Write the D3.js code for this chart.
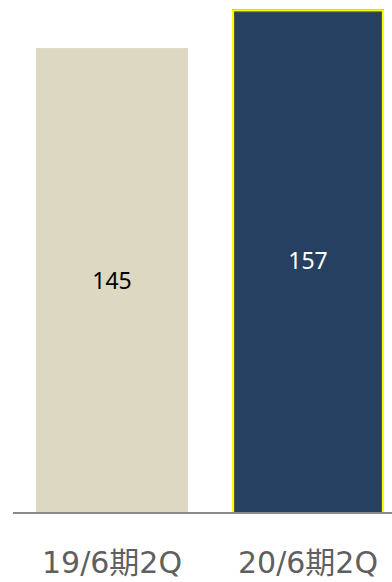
<!DOCTYPE html>
<html>
<head>
<meta charset="utf-8">
<script src="https://cdn.jsdelivr.net/npm/d3@7"></script>
<style>
  html, body { margin: 0; padding: 0; background: #fff; }
  svg { display: block; }
</style>
</head>
<body>
<div id="chart"></div>
<script>
const categories = ["19/6期2Q", "20/6期2Q"];
const values = [145, 157];
const barColors = ["#ddd8c2", "#254061"];
const labelColors = ["#000000", "#ffffff"];

const width = 392;
const height = 582;
const baseline = 513;

const svg = d3.select("#chart")
  .append("svg")
  .attr("width", width)
  .attr("height", height);

const x = d3.scaleBand()
  .domain(categories)
  .range([14, 406])
  .paddingInner(0.2245)
  .paddingOuter(0.1122);

const y = d3.scaleLinear()
  .domain([0, 160])
  .range([baseline, 0]);

const data = categories.map((c, i) => ({ cat: c, value: values[i], i: i }));

// bars
svg.selectAll("rect.bar")
  .data(data)
  .enter().append("rect")
  .attr("class", "bar")
  .attr("x", d => x(d.cat))
  .attr("y", d => y(d.value))
  .attr("width", x.bandwidth())
  .attr("height", d => baseline - y(d.value))
  .attr("fill", d => barColors[d.i]);

// highlighted bar outline (yellow)
svg.selectAll("rect.hl")
  .data(data.filter(d => d.i === 1))
  .enter().append("rect")
  .attr("class", "hl")
  .attr("x", d => x(d.cat) + 1)
  .attr("y", d => y(d.value) + 1)
  .attr("width", x.bandwidth() - 2)
  .attr("height", d => baseline - y(d.value) - 1)
  .attr("fill", "none")
  .attr("stroke", "#ffff00")
  .attr("stroke-width", 2);

svg.selectAll("rect.hl2")
  .data(data.filter(d => d.i === 1))
  .enter().append("rect")
  .attr("class", "hl2")
  .attr("x", d => x(d.cat) + 2.5)
  .attr("y", d => y(d.value) + 2.5)
  .attr("width", x.bandwidth() - 5)
  .attr("height", d => baseline - y(d.value) - 2.5)
  .attr("fill", "none")
  .attr("stroke", "#4a5a3a")
  .attr("stroke-width", 1);

// value labels
svg.selectAll("text.val")
  .data(data)
  .enter().append("text")
  .attr("class", "val")
  .attr("x", d => x(d.cat) + x.bandwidth() / 2)
  .attr("y", d => (y(d.value) + baseline) / 2 + 8)
  .attr("text-anchor", "middle")
  .style("font-family", "'Noto Sans', sans-serif")
  .style("font-size", "23px")
  .style("fill", d => labelColors[d.i])
  .text(d => d.value);

// axis line
svg.append("line")
  .attr("x1", 13)
  .attr("x2", width)
  .attr("y1", baseline)
  .attr("y2", baseline)
  .attr("stroke", "#8a8a8a")
  .attr("stroke-width", 2);

// category labels
const xAxis = svg.append("g")
  .attr("transform", `translate(0,${baseline})`)
  .call(d3.axisBottom(x).tickSize(0).tickPadding(0));
xAxis.select(".domain").remove();
xAxis.selectAll("text")
  .attr("y", 60)
  .attr("dy", 0)
  .style("font-family", "'DejaVu Sans', 'Noto Sans CJK JP', sans-serif")
  .style("font-size", "30px")
  .style("fill", "#5f5f5f");
</script>
</body>
</html>
